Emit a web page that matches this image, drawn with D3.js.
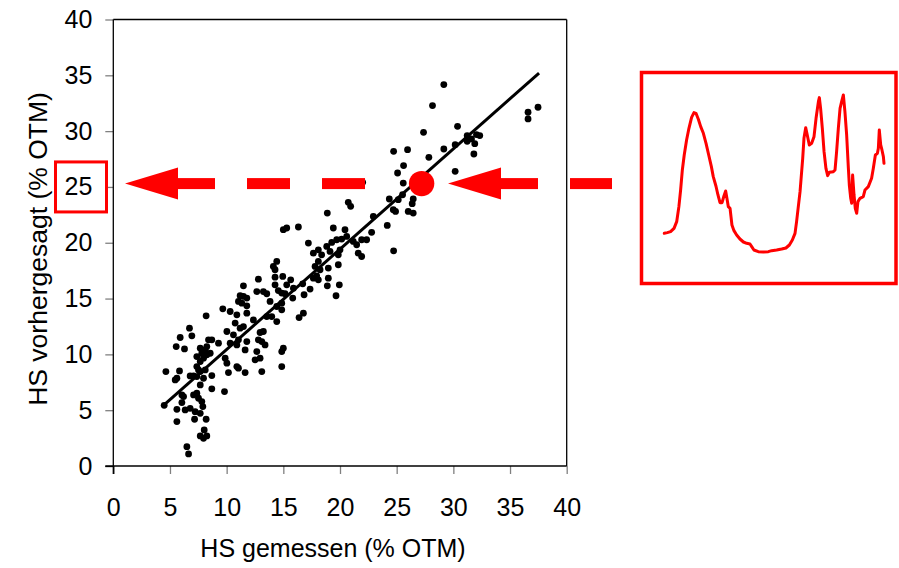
<!DOCTYPE html>
<html>
<head>
<meta charset="utf-8">
<script src="https://cdn.jsdelivr.net/npm/d3@7"></script>
<style>
  html, body { margin: 0; padding: 0; background: #fff; }
  svg { display: block; font-family: "Liberation Sans", Arial, sans-serif; }
</style>
</head>
<body>
<svg id="chart" width="899" height="568"></svg>
<script>
// HS content: measured (x) vs. NIR-predicted (y), % of dry matter (OTM)
const measured = [
  14.27, 14.95, 14.27, 12.80, 15.65, 16.71, 17.65, 18.09, 17.94, 18.97,
  18.88, 19.94, 19.65, 11.48, 12.66, 13.24, 13.54, 14.56, 14.86, 15.15,
  14.27, 15.30, 15.89, 15.83, 16.83, 17.36, 11.19, 11.48, 11.78, 11.04,
  11.34, 11.78, 13.83, 14.42, 14.86, 14.86, 9.66, 10.31, 10.90, 11.78,
  12.36, 13.54, 13.98, 14.42, 16.77, 16.39, 8.19, 6.72, 5.90, 6.93,
  5.55, 6.28, 10.02, 10.75, 11.19, 11.48, 10.60, 11.04, 10.90, 10.31,
  11.78, 12.95, 13.24, 12.80, 13.10, 13.39, 8.40, 8.69, 7.67, 7.81,
  8.11, 8.25, 7.37, 7.67, 7.96, 8.25, 8.55, 9.28, 11.63, 12.66,
  12.51, 12.95, 14.86, 15.00, 9.87, 10.02, 10.90, 11.04, 10.16, 11.63,
  13.10, 14.86, 4.64, 5.84, 5.46, 5.61, 7.37, 7.52, 6.78, 7.08,
  7.37, 7.96, 7.67, 8.11, 8.69, 8.69, 9.81, 7.67, 6.05, 6.20,
  7.08, 7.37, 7.52, 7.81, 7.90, 4.49, 5.61, 6.05, 6.34, 6.78,
  7.22, 7.67, 5.61, 7.17, 8.19, 8.02, 7.67, 7.96, 8.25, 6.49,
  6.64,
  22.00, 20.73, 20.94, 18.88, 22.94, 16.33, 15.00, 15.30, 19.41, 20.44,
  20.59, 20.15, 19.71, 19.27, 22.79, 22.35, 17.21, 17.65, 18.09, 18.38,
  18.83, 19.12, 21.17, 21.47, 21.91, 21.61, 21.91, 19.85, 20.00, 14.42,
  14.12, 18.09, 17.80, 18.24, 18.97, 19.85,
  29.16, 28.16, 36.59, 36.59, 37.47, 30.37, 27.37, 31.22, 31.22, 31.60,
  32.04, 32.33, 31.89, 31.81, 30.16, 29.16, 27.84, 25.96, 24.73, 25.61,
  25.08, 30.16, 25.58, 25.52, 24.35, 25.14, 24.70, 24.90, 26.46, 26.37,
  26.02, 26.46, 24.17, 24.73
];
const predicted = [
  17.58, 16.98, 16.92, 16.74, 16.68, 16.32, 16.83, 16.68, 17.04, 16.83,
  16.14, 16.23, 15.25, 16.14, 15.63, 15.63, 15.43, 15.72, 15.49, 15.43,
  16.23, 16.23, 15.93, 15.04, 15.34, 15.85, 15.25, 15.19, 15.04, 14.74,
  14.59, 14.35, 14.74, 14.29, 13.99, 14.59, 14.08, 13.84, 13.54, 13.69,
  13.09, 13.39, 13.39, 12.94, 13.69, 13.30, 13.45, 12.35, 11.51, 11.66,
  10.70, 10.49, 12.05, 12.80, 12.35, 12.49, 11.75, 11.30, 10.85, 11.00,
  11.15, 11.96, 12.05, 11.30, 11.15, 10.85, 11.30, 11.30, 10.55, 10.10,
  10.40, 10.70, 9.80, 9.36, 9.66, 9.96, 10.10, 11.00, 10.40, 10.25,
  9.51, 9.66, 10.25, 10.55, 9.66, 9.21, 8.91, 8.76, 8.37, 8.37,
  8.46, 8.91, 8.46, 8.52, 7.71, 7.86, 8.91, 8.61, 8.07, 8.07,
  8.01, 7.86, 8.46, 8.61, 8.10, 6.91, 6.67, 7.26, 6.37, 6.22,
  6.37, 6.52, 6.07, 5.77, 5.32, 5.44, 5.08, 5.68, 5.02, 5.17,
  4.87, 4.72, 3.98, 4.19, 4.19, 3.23, 2.69, 2.48, 2.69, 1.73,
  1.08,
  25.41, 23.62, 23.26, 22.66, 22.36, 21.41, 21.17, 21.32, 21.32, 21.17,
  20.57, 20.33, 20.27, 20.03, 20.93, 20.27, 19.97, 19.07, 19.37, 18.92,
  19.67, 19.22, 20.12, 19.82, 20.27, 19.07, 18.77, 18.92, 19.37, 18.33,
  17.88, 18.33, 17.88, 17.58, 17.73, 18.03,
  34.17, 32.29, 31.69, 31.09, 32.14, 30.43, 29.89, 29.60, 29.09, 29.30,
  29.69, 29.60, 28.88, 27.95, 28.79, 28.40, 27.65, 28.34, 28.19, 26.91,
  26.25, 26.40, 25.35, 24.30, 23.92, 23.86, 22.96, 22.81, 23.92, 23.50,
  22.81, 22.66, 21.55, 19.28
];

// Calibration line end points
const fitMeasured  = [4.43, 37.56];
const fitPredicted = [5.44, 35.20];

const sampleMeasured  = 27.2;
const samplePredicted = 25.3;
const readTick = 25;

// Axis ticks
const xTicks = [0, 5, 10, 15, 20, 25, 30, 35, 40];
const yTicks = [0, 5, 10, 15, 20, 25, 30, 35, 40];

// NIR spectrum of the highlighted sample (wavelength nm, absorbance)
const specWavelength = [
  1100, 1119, 1140, 1162, 1179, 1193, 1204, 1215, 1227, 1242,
  1257, 1274, 1289, 1302, 1317, 1332, 1349, 1366, 1383, 1400,
  1412, 1429, 1442, 1455, 1468, 1480, 1491, 1499, 1508, 1519,
  1525, 1531, 1544, 1561, 1582, 1604, 1625, 1646, 1657, 1671,
  1699, 1731, 1763, 1784, 1816, 1848, 1875, 1897, 1916, 1933,
  1943, 1965, 1982, 1990, 2001, 2011, 2024, 2039, 2054, 2067,
  2082, 2088, 2096, 2107, 2118, 2130, 2141, 2152, 2177, 2188,
  2198, 2209, 2220, 2230, 2241, 2251, 2262, 2273, 2279, 2288,
  2294, 2300, 2309, 2317, 2326, 2334, 2347, 2368, 2379, 2400,
  2421, 2432, 2445, 2458, 2464, 2470, 2479, 2487, 2496, 2500
];
const specAbsorbance = [
  0.080, 0.082, 0.085, 0.095, 0.115, 0.160, 0.210, 0.270, 0.315, 0.360,
  0.395, 0.428, 0.442, 0.440, 0.422, 0.400, 0.380, 0.350, 0.315, 0.280,
  0.250, 0.222, 0.195, 0.172, 0.172, 0.192, 0.207, 0.185, 0.160, 0.155,
  0.130, 0.105, 0.088, 0.075, 0.063, 0.054, 0.050, 0.048, 0.040, 0.030,
  0.025, 0.024, 0.025, 0.028, 0.030, 0.033, 0.036, 0.045, 0.060, 0.080,
  0.115, 0.205, 0.305, 0.365, 0.397, 0.375, 0.345, 0.350, 0.370, 0.425,
  0.475, 0.487, 0.455, 0.395, 0.325, 0.275, 0.253, 0.263, 0.265, 0.270,
  0.325, 0.395, 0.455, 0.475, 0.495, 0.445, 0.375, 0.275, 0.225, 0.185,
  0.170, 0.255, 0.195, 0.155, 0.140, 0.175, 0.185, 0.190, 0.210, 0.220,
  0.245, 0.275, 0.315, 0.320, 0.335, 0.390, 0.345, 0.330, 0.310, 0.290
];
</script>
<script>
const svg = d3.select("#chart");
const RED = "#ff0000";

const plot = { left: 113.3, right: 566.7, top: 19.5, bottom: 466 };
const x = d3.scaleLinear().domain([0, 40]).range([plot.left, plot.right]);
const y = d3.scaleLinear().domain([0, 40]).range([plot.bottom, plot.top]);

svg.append("rect").attr("width", 899).attr("height", 568).attr("fill", "#fff");

// ---- axes ----
const fontSize = 25;
const gx = svg.append("g")
  .attr("transform", `translate(0,${plot.bottom})`)
  .call(d3.axisBottom(x).tickValues(xTicks).tickSize(8).tickSizeOuter(0).tickPadding(24));
const gy = svg.append("g")
  .attr("transform", `translate(${plot.left},0)`)
  .call(d3.axisLeft(y).tickValues(yTicks).tickSize(8).tickSizeOuter(0).tickPadding(13));

[gx, gy].forEach(g => {
  g.select(".domain").remove();
  g.selectAll(".tick line").attr("stroke", "#808080").attr("stroke-width", 1.3);
  g.selectAll(".tick text")
    .attr("fill", "#000")
    .style("font-size", fontSize + "px")
    .style("font-family", '"Liberation Sans", Arial, sans-serif');
});
gx.selectAll(".tick").filter(d => d === 0).select("line").attr("stroke", "#000");
gy.selectAll(".tick").filter(d => d === 0).select("line").attr("stroke", "#000");

// frame
const frame = svg.append("g").attr("stroke", "#000").attr("stroke-width", 1.3).attr("fill", "none");
frame.append("line").attr("x1", x(0)).attr("x2", x(0)).attr("y1", y(40)).attr("y2", y(0) + 8);
frame.append("line").attr("x1", x(0) - 8).attr("x2", x(40)).attr("y1", y(0)).attr("y2", y(0));
frame.append("line").attr("x1", x(0)).attr("x2", x(40)).attr("y1", y(40)).attr("y2", y(40));
frame.append("line").attr("x1", x(40)).attr("x2", x(40)).attr("y1", y(40)).attr("y2", y(0));

// axis titles
svg.append("text")
  .attr("x", 333).attr("y", 557)
  .attr("text-anchor", "middle")
  .style("font-size", fontSize + "px")
  .text("HS gemessen (% OTM)");
svg.append("text")
  .attr("transform", "translate(47,249) rotate(-90)")
  .attr("text-anchor", "middle")
  .style("font-size", "26.5px")
  .text("HS vorhergesagt (% OTM)");

// ---- samples ----
svg.append("g")
  .selectAll("circle")
  .data(d3.zip(measured, predicted))
  .join("circle")
  .attr("cx", d => x(d[0]))
  .attr("cy", d => y(d[1]))
  .attr("r", 3.4)
  .attr("fill", "#000");

// calibration line
svg.append("path")
  .datum(d3.zip(fitMeasured, fitPredicted))
  .attr("d", d3.line().x(d => x(d[0])).y(d => y(d[1])))
  .attr("stroke", "#000")
  .attr("stroke-width", 3)
  .attr("fill", "none");

// ---- highlighted sample and read-off arrows ----
const ay = y(samplePredicted);
svg.append("circle")
  .attr("cx", x(sampleMeasured)).attr("cy", ay)
  .attr("r", 12.7).attr("fill", RED);

// box round the tick label that is read
svg.append("rect")
  .attr("x", 55.5).attr("y", y(readTick) - 25)
  .attr("width", 51).attr("height", 50)
  .attr("fill", "none").attr("stroke", RED).attr("stroke-width", 3);

function arrow(tipX, headLen, shaftEnd, dashes) {
  const g = svg.append("g").attr("fill", RED);
  g.append("path").attr("d",
    `M${tipX},${ay}L${tipX + headLen},${ay - 16}L${tipX + headLen},${ay + 16}Z`);
  g.append("rect").attr("x", tipX + headLen - 1).attr("y", ay - 5.5)
    .attr("width", shaftEnd - (tipX + headLen - 1)).attr("height", 11);
  dashes.forEach(([a, b]) => {
    g.append("rect").attr("x", a).attr("y", ay - 5.5).attr("width", b - a).attr("height", 11);
  });
}
arrow(125, 53, 215, [[247, 290], [322, 365]]);
arrow(448, 53, 538, [[570, 612]]);

// ---- spectrum inset ----
svg.append("rect")
  .attr("x", 641.5).attr("y", 72.5).attr("width", 254.5).attr("height", 211)
  .attr("fill", "none").attr("stroke", RED).attr("stroke-width", 3.5);

const sx = d3.scaleLinear().domain([1100, 2500]).range([664.3, 884]);
const sy = d3.scaleLinear().domain([0, 0.5]).range([260, 93.3]);
svg.append("path")
  .datum(d3.zip(specWavelength, specAbsorbance))
  .attr("d", d3.line().x(d => sx(d[0])).y(d => sy(d[1])))
  .attr("fill", "none")
  .attr("stroke", RED)
  .attr("stroke-width", 3)
  .attr("stroke-linejoin", "round")
  .attr("stroke-linecap", "round");
</script>
</body>
</html>
